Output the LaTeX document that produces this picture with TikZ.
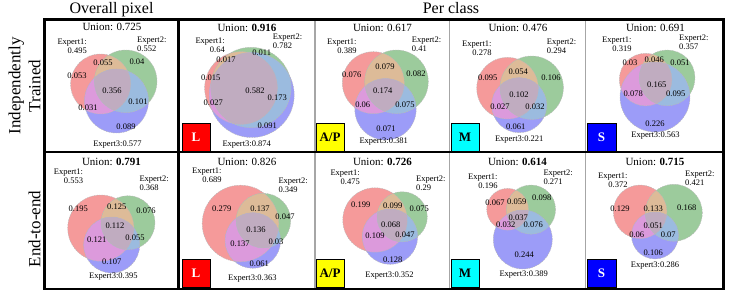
\documentclass[tikz,border=0pt]{standalone}
\usepackage{fontspec}
\setmainfont{Liberation Serif}
\definecolor{ca}{HTML}{F59A9A}
\definecolor{cb}{HTML}{9CCB9C}
\definecolor{cc}{HTML}{9C9CF8}
\definecolor{cab}{HTML}{DDBB98}
\definecolor{cac}{HTML}{DC9ADC}
\definecolor{cbc}{HTML}{9BBBDF}
\definecolor{cabc}{HTML}{C0ACC0}
\definecolor{boxred}{RGB}{255,0,0}
\definecolor{boxyellow}{RGB}{255,255,0}
\definecolor{boxcyan}{RGB}{0,255,255}
\definecolor{boxblue}{RGB}{0,0,255}
\newcommand\vennpanel[9]{%
  \begin{scope}
    \coordinate (vA) at (#1,#2);
    \coordinate (vB) at (#4,#5);
    \coordinate (vC) at (#7,#8);
    \fill[ca] (vA) circle[radius=#3pt];
    \fill[cb] (vB) circle[radius=#6pt];
    \fill[cc] (vC) circle[radius=#9pt];
    \begin{scope}\clip (vA) circle[radius=#3pt]; \fill[cab] (vB) circle[radius=#6pt];\end{scope}
    \begin{scope}\clip (vA) circle[radius=#3pt]; \fill[cac] (vC) circle[radius=#9pt];\end{scope}
    \begin{scope}\clip (vB) circle[radius=#6pt]; \fill[cbc] (vC) circle[radius=#9pt];\end{scope}
    \begin{scope}\clip (vA) circle[radius=#3pt]; \clip (vB) circle[radius=#6pt]; \fill[cabc] (vC) circle[radius=#9pt];\end{scope}
    \draw[vline] (vA) circle[radius=#3pt] (vB) circle[radius=#6pt] (vC) circle[radius=#9pt];
  \end{scope}}
\newcommand\firstline{\rule{0pt}{6pt}}
\begin{document}
\begin{tikzpicture}[x=1pt,y=-1pt,
  vline/.style={draw=gray!55,line width=0.45pt,dash pattern=on 1.5pt off 1pt},
  title/.style={font=\fontsize{16}{18}\selectfont,anchor=base,inner sep=0},
  rowlab/.style={font=\fontsize{17}{20}\selectfont,rotate=90,align=center,inner sep=0},
  unionlab/.style={font=\fontsize{11}{13}\selectfont,anchor=base,inner sep=0},
  num/.style={font=\fontsize{8.5}{9}\selectfont,inner sep=0},
  eone/.style={font=\fontsize{8.5}{9}\selectfont,inner sep=0,align=right,anchor=north east},
  etwo/.style={font=\fontsize{8.5}{9}\selectfont,inner sep=0,align=left,anchor=north west},
  ethree/.style={font=\fontsize{8.5}{9}\selectfont,inner sep=0,anchor=base},
  pbox/.style={draw=black,line width=0.6pt,minimum width=28pt,minimum height=28pt,inner sep=0,font=\fontsize{13}{15}\selectfont\bfseries},
  thick frame/.style={line width=2.5pt,black},
  thin frame/.style={line width=1.2pt,gray!70}]
\useasboundingbox (0,0) rectangle (731,294);

% ---------- Venn diagrams ----------
\vennpanel{100.6}{84}{30}{125.7}{81.3}{31.3}{116.5}{101}{32}
\vennpanel{241}{88}{36.4}{251}{87.5}{40.2}{251.7}{95}{42.5}
\vennpanel{373.3}{82.7}{31}{396.5}{81.8}{31.8}{385.5}{109.3}{30.7}
\vennpanel{507.5}{88.2}{30.8}{531.7}{87.7}{31.7}{519.2}{105.2}{27.5}
\vennpanel{645.6}{79.6}{26.3}{667.1}{77.9}{27.9}{655}{97}{35}
\vennpanel{100.8}{228.1}{33.1}{128}{222.7}{27}{111.7}{245}{28}
\vennpanel{240.5}{223.5}{38.3}{263.4}{220.6}{27.3}{252.8}{240.5}{27.8}
\vennpanel{375}{220}{32.2}{402.2}{216.8}{25.1}{390}{236.7}{27.7}
\vennpanel{507.6}{209.3}{20.9}{531}{209.6}{24.6}{522.8}{239.5}{29.5}
\vennpanel{640.1}{211.8}{26.8}{673.8}{212.8}{28.5}{655}{235.5}{23.5}

% ---------- titles ----------
\node[title] (tOverall) at (111.5,13.5) {Overall pixel};
\node[title] (tPer) at (451,13.5) {Per class};
\node[rowlab] (rowA) at (24.5,86) {Independently\\Trained};
\node[rowlab] (rowB) at (34.5,229) {End-to-end};

% ---------- panel 00 ----------
\node[unionlab] (u00) at (112,31) {Union: 0.725};
\node[eone] (ea00) at (87,38.5) {\firstline Expert1:\\0.495};
\node[etwo] (eb00) at (137,36) {\firstline Expert2:\\0.552};
\node[ethree] (ec00) at (117.5,146.5) {Expert3:0.577};
\node[num] (ra00) at (77,76) {0.053};
\node[num] (rab00) at (103,63) {0.055};
\node[num] (rb00) at (137,62) {0.04};
\node[num] (rabc00) at (112,91) {0.356};
\node[num] (rac00) at (88,108) {0.031};
\node[num] (rbc00) at (138,102) {0.101};
\node[num] (rc00) at (126,127) {0.089};

% ---------- panel 01 ----------
\node[unionlab] (u01) at (247,31.5) {Union: \textbf{0.916}};
\node[eone] (ea01) at (225,37.3) {\firstline Expert1:\\0.64};
\node[etwo] (eb01) at (272.7,33.3) {\firstline Expert2:\\0.782};
\node[ethree] (ec01) at (246.7,147) {Expert3:0.874};
\node[num] (ra01) at (210.7,77.7) {0.015};
\node[num] (rab01) at (226,60) {0.017};
\node[num] (rb01) at (261.7,52.7) {0.011};
\node[num] (rabc01) at (255,91) {0.582};
\node[num] (rac01) at (213.3,102.7) {0.027};
\node[num] (rbc01) at (277.3,97.3) {0.173};
\node[num] (rc01) at (267.3,126) {0.091};

% ---------- panel 02 ----------
\node[unionlab] (u02) at (382.5,31.5) {Union: 0.617};
\node[eone] (ea02) at (356.7,38) {\firstline Expert1:\\0.389};
\node[etwo] (eb02) at (411.7,36.7) {\firstline Expert2:\\0.41};
\node[ethree] (ec02) at (383.7,143) {Expert3:0.381};
\node[num] (ra02) at (351.7,75) {0.076};
\node[num] (rab02) at (385,66.7) {0.079};
\node[num] (rb02) at (416,73.3) {0.082};
\node[num] (rabc02) at (382.7,90.7) {0.174};
\node[num] (rac02) at (362.7,105) {0.06};
\node[num] (rbc02) at (405,105) {0.075};
\node[num] (rc02) at (386,128.3) {0.071};

% ---------- panel 03 ----------
\node[unionlab] (u03) at (518,31.5) {Union: 0.476};
\node[eone] (ea03) at (491.7,40) {\firstline Expert1:\\0.278};
\node[etwo] (eb03) at (546.7,38) {\firstline Expert2:\\0.294};
\node[ethree] (ec03) at (519.2,141.7) {Expert3:0.221};
\node[num] (ra03) at (487.7,77.3) {0.095};
\node[num] (rab03) at (518.3,71.7) {0.054};
\node[num] (rb03) at (551,77.3) {0.106};
\node[num] (rabc03) at (519,95) {0.102};
\node[num] (rac03) at (500,106.7) {0.027};
\node[num] (rbc03) at (535,106.7) {0.032};
\node[num] (rc03) at (515.7,126.7) {0.061};

% ---------- panel 04 ----------
\node[unionlab] (u04) at (655.5,31.5) {Union: 0.691};
\node[eone] (ea04) at (631.7,36.7) {\firstline Expert1:\\0.319};
\node[etwo] (eb04) at (679,34.7) {\firstline Expert2:\\0.357};
\node[ethree] (ec04) at (655.5,137.7) {Expert3:0.563};
\node[num] (ra04) at (630,62.7) {0.03};
\node[num] (rab04) at (654.3,60) {0.046};
\node[num] (rb04) at (680,62.7) {0.051};
\node[num] (rabc04) at (656.7,85) {0.165};
\node[num] (rac04) at (633.3,94) {0.078};
\node[num] (rbc04) at (675.7,94) {0.095};
\node[num] (rc04) at (655,124) {0.226};

% ---------- panel 10 ----------
\node[unionlab] (u10) at (111.5,165) {Union: \textbf{0.791}};
\node[eone] (ea10) at (83.3,168.3) {\firstline Expert1:\\0.553};
\node[etwo] (eb10) at (139.3,175) {\firstline Expert2:\\0.368};
\node[ethree] (ec10) at (113.3,278.3) {Expert3:0.395};
\node[num] (ra10) at (78.3,208.3) {0.195};
\node[num] (rab10) at (116.7,206.7) {0.125};
\node[num] (rb10) at (146,211) {0.076};
\node[num] (rabc10) at (115,225.7) {0.112};
\node[num] (rac10) at (96.7,239.3) {0.121};
\node[num] (rbc10) at (135,237.7) {0.055};
\node[num] (rc10) at (111.7,261.7) {0.107};

% ---------- panel 11 ----------
\node[unionlab] (u11) at (247,165.5) {Union: 0.826};
\node[eone] (ea11) at (221.7,167.3) {\firstline Expert1:\\0.689};
\node[etwo] (eb11) at (278.3,177.3) {\firstline Expert2:\\0.349};
\node[ethree] (ec11) at (252.3,280) {Expert3:0.363};
\node[num] (ra11) at (221.7,208.3) {0.279};
\node[num] (rab11) at (260,208.3) {0.137};
\node[num] (rb11) at (285,216.7) {0.047};
\node[num] (rabc11) at (256,230) {0.136};
\node[num] (rac11) at (240,244) {0.137};
\node[num] (rbc11) at (276,241.7) {0.03};
\node[num] (rc11) at (259.3,263.3) {0.061};

% ---------- panel 12 ----------
\node[unionlab] (u12) at (382.5,165.5) {Union: \textbf{0.726}};
\node[eone] (ea12) at (360,169) {\firstline Expert1:\\0.475};
\node[etwo] (eb12) at (416,175.7) {\firstline Expert2:\\0.29};
\node[ethree] (ec12) at (389.5,277.7) {Expert3:0.352};
\node[num] (ra12) at (360.7,205) {0.199};
\node[num] (rab12) at (392.7,205.7) {0.099};
\node[num] (rb12) at (419.3,209) {0.075};
\node[num] (rabc12) at (390.7,225) {0.068};
\node[num] (rac12) at (375,235.7) {0.109};
\node[num] (rbc12) at (405,234.3) {0.047};
\node[num] (rc12) at (392.7,260) {0.128};

% ---------- panel 13 ----------
\node[unionlab] (u13) at (517.5,165.5) {Union: \textbf{0.614}};
\node[eone] (ea13) at (497.7,173.3) {\firstline Expert1:\\0.196};
\node[etwo] (eb13) at (543.3,169) {\firstline Expert2:\\0.271};
\node[ethree] (ec13) at (523.7,276.7) {Expert3:0.389};
\node[num] (ra13) at (495,202.3) {0.067};
\node[num] (rab13) at (516.7,201.7) {0.059};
\node[num] (rb13) at (541.7,197.7) {0.098};
\node[num] (rabc13) at (518.3,217.7) {0.037};
\node[num] (rac13) at (505.7,225) {0.032};
\node[num] (rbc13) at (533.3,225) {0.076};
\node[num] (rc13) at (524.3,255) {0.244};

% ---------- panel 14 ----------
\node[unionlab] (u14) at (655,165.5) {Union: \textbf{0.715}};
\node[eone] (ea14) at (627.7,172.3) {\firstline Expert1:\\0.372};
\node[etwo] (eb14) at (685,170.7) {\firstline Expert2:\\0.421};
\node[ethree] (ec14) at (655,267) {Expert3:0.286};
\node[num] (ra14) at (620,208.3) {0.129};
\node[num] (rab14) at (653.3,208.3) {0.133};
\node[num] (rb14) at (686.7,207.7) {0.168};
\node[num] (rabc14) at (653.3,226) {0.051};
\node[num] (rac14) at (636.7,234.3) {0.06};
\node[num] (rbc14) at (668.3,234.3) {0.07};
\node[num] (rc14) at (653.3,253) {0.106};

% ---------- class boxes ----------
\node[pbox,fill=boxred,text=white] (bL1) at (196,137) {L};
\node[pbox,fill=boxyellow,text=black] (bAP1) at (330,137) {A/P};
\node[pbox,fill=boxcyan,text=black] (bM1) at (465,137) {M};
\node[pbox,fill=boxblue,text=white,minimum width=29pt] (bS1) at (601.5,137) {S};
\node[pbox,fill=boxred,text=white] (bL2) at (196,273.5) {L};
\node[pbox,fill=boxyellow,text=black] (bAP2) at (330,273.5) {A/P};
\node[pbox,fill=boxcyan,text=black] (bM2) at (465,273.5) {M};
\node[pbox,fill=boxblue,text=white,minimum width=29pt] (bS2) at (601.5,273.5) {S};

% ---------- frame ----------
\coordinate (fTL) at (44.5,19.5);
\coordinate (fTR) at (723.5,19.5);
\coordinate (fML) at (44.5,152);
\coordinate (fMR) at (723.5,152);
\coordinate (fBL) at (44.5,289);
\coordinate (fBR) at (723.5,289);
\coordinate (d1T) at (315,19.5);  \coordinate (d1B) at (315,289);
\coordinate (d2T) at (449.5,19.5); \coordinate (d2B) at (449.5,289);
\coordinate (d3T) at (585.5,19.5); \coordinate (d3B) at (585.5,289);
\coordinate (d0T) at (178.5,19.5); \coordinate (d0B) at (178.5,289);
\draw[thin frame] (d1T) -- (d1B) (d2T) -- (d2B) (d3T) -- (d3B);
\draw[thick frame] (fTL) rectangle (fBR);
\draw[thick frame] (fML) -- (fMR);
\draw[thick frame] (d0T) -- (d0B);
\end{tikzpicture}
\end{document}
